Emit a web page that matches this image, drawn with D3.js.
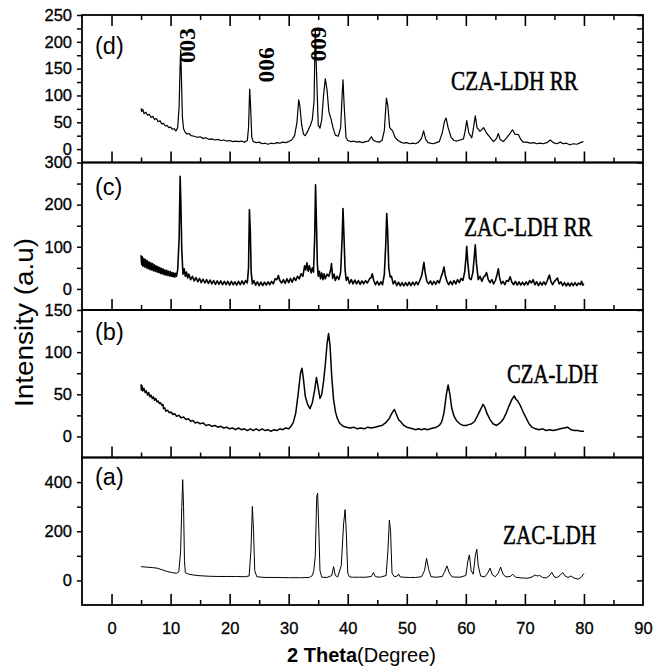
<!DOCTYPE html>
<html>
<head>
<meta charset="utf-8">
<script src="https://cdn.jsdelivr.net/npm/d3@7"></script>
<style>
  html, body { margin: 0; padding: 0; background: #fff; }
  svg { display: block; }
  .tick text { font-family: "Liberation Sans", Arial, sans-serif; font-size: 16.5px; fill: #000; stroke: #000; stroke-width: 0.3px; }
</style>
</head>
<body>
<script>
// XRD patterns, 2 theta vs intensity, four stacked panels (top to bottom: d, c, b, a)

var czaRR = [[5.0,76],[5.1,70],[5.3,74],[5.5,66],[5.8,69],[6.1,63],[6.4,65],[6.7,59],[7.0,61],[7.3,55],[7.6,57],[7.9,51],[8.2,53],[8.5,47],[8.8,48],[9.1,43],[9.4,44],[9.7,40],[10.0,41],[10.3,37],[10.6,38],[10.9,34],[11.2,40],[11.45,80],[11.6,150],[11.72,185],[11.85,128],[12.0,60],[12.2,38],[12.5,31],[12.8,28],[13.1,29],[13.5,25],[14,24],[14.5,22],[15,23],[15.5,20],[16,21],[16.5,18],[17,19],[17.5,17],[18,18],[18.5,16],[19,17],[19.5,15],[20,16],[20.5,14],[21,15],[21.5,14],[22,15],[22.5,13],[23.0,16],[23.2,40],[23.4,112],[23.55,80],[23.75,22],[24.0,14],[24.5,12],[25,13],[25.5,10],[26,11],[26.5,9],[27,11],[27.5,10],[28,12],[28.5,11],[29,13],[29.5,12],[30,14],[30.5,17],[31.0,25],[31.4,50],[31.7,92],[31.9,80],[32.2,45],[32.5,28],[32.8,25],[33.2,33],[33.7,45],[34.0,55],[34.3,90],[34.5,225],[34.7,150],[35.0,45],[35.3,39],[35.6,55],[35.9,100],[36.2,131],[36.5,110],[36.8,70],[37.2,55],[37.5,40],[37.9,26],[38.4,24],[38.8,40],[39.05,100],[39.2,129],[39.4,80],[39.7,22],[40.0,16],[40.5,14],[41,15],[41.5,13],[42,14],[42.5,12],[43,14],[43.5,15],[44.0,23],[44.3,17],[44.8,14],[45.3,13],[45.8,16],[46.2,35],[46.55,95],[46.8,80],[47.1,40],[47.6,34],[48,22],[48.5,16],[49,13],[49.5,11],[50,12],[50.5,10],[51,11],[51.5,10],[52,13],[52.5,20],[52.85,34],[53.2,18],[53.6,12],[54,11],[54.5,10],[55,12],[55.5,14],[56,30],[56.4,52],[56.65,58],[57.0,40],[57.5,22],[58,16],[58.5,15],[59,17],[59.6,19],[59.9,35],[60.15,53],[60.5,30],[61.0,21],[61.3,40],[61.6,62],[61.9,40],[62.4,33],[63.0,40],[63.5,30],[64.1,22],[64.7,14],[65.2,20],[65.5,29],[65.8,18],[66.35,14],[66.9,21],[67.4,28],[67.9,36],[68.3,28],[68.9,27],[69.3,18],[69.7,13],[70.3,13],[70.9,11],[71.5,12],[72,10],[72.5,11],[73.1,10],[73.7,12],[74.3,17],[74.8,12],[75.4,10],[76,13],[76.5,10],[77,11],[77.6,8],[78.2,10],[78.8,9],[79.4,12],[79.9,14]];

var zacRR = [[5.0,80],[5.1,58],[5.2,76],[5.3,54],[5.45,72],[5.6,52],[5.75,70],[5.9,50],[6.05,67],[6.2,48],[6.35,64],[6.5,46],[6.65,62],[6.8,45],[6.95,60],[7.1,43],[7.25,57],[7.4,42],[7.55,55],[7.7,40],[7.85,53],[8.0,39],[8.15,51],[8.3,37],[8.45,49],[8.6,36],[8.75,47],[8.9,34],[9.05,45],[9.2,33],[9.35,44],[9.5,32],[9.65,42],[9.8,31],[9.95,41],[10.1,30],[10.25,39],[10.4,29],[10.55,38],[10.7,28],[10.85,37],[11.0,30],[11.2,45],[11.45,120],[11.62,267],[11.75,200],[11.9,90],[12.1,35],[12.3,48],[12.5,30],[12.7,40],[12.9,26],[13.1,35],[13.4,22],[13.7,30],[14.0,19],[14.3,27],[14.6,17],[14.9,25],[15.2,15],[15.5,23],[15.8,14],[16.1,22],[16.4,13],[16.7,21],[17.0,12],[17.3,20],[17.6,11],[17.9,19],[18.2,11],[18.5,19],[18.8,10],[19.1,18],[19.4,10],[19.7,18],[20.0,9],[20.3,18],[20.6,10],[20.9,17],[21.2,9],[21.5,18],[21.8,10],[22.1,19],[22.4,11],[22.7,20],[23.0,14],[23.2,50],[23.35,188],[23.5,140],[23.65,40],[23.85,12],[24.1,20],[24.4,9],[24.7,17],[25.0,8],[25.3,16],[25.6,8],[25.9,16],[26.2,9],[26.5,17],[26.8,10],[27.1,18],[27.4,12],[27.7,24],[28.0,22],[28.25,32],[28.5,20],[28.8,14],[29.1,22],[29.4,13],[29.7,24],[30.0,15],[30.3,25],[30.6,16],[30.9,27],[31.2,20],[31.5,30],[31.8,24],[32.1,36],[32.4,30],[32.7,55],[32.9,45],[33.1,62],[33.3,42],[33.5,55],[33.8,38],[34.0,50],[34.2,40],[34.4,120],[34.55,247],[34.7,160],[34.85,60],[35.0,30],[35.2,42],[35.4,24],[35.6,38],[35.8,22],[36.0,36],[36.2,24],[36.5,35],[36.8,30],[37.1,45],[37.25,60],[37.45,25],[37.7,35],[37.9,20],[38.2,30],[38.5,22],[38.8,40],[39.05,120],[39.2,191],[39.35,130],[39.55,45],[39.75,20],[40.0,28],[40.3,13],[40.6,22],[40.9,12],[41.2,21],[41.5,12],[41.8,20],[42.1,11],[42.4,19],[42.7,12],[43.0,20],[43.3,14],[43.7,24],[44.0,28],[44.15,36],[44.4,20],[44.7,10],[45.0,18],[45.3,9],[45.6,17],[45.9,10],[46.2,35],[46.45,110],[46.6,179],[46.75,140],[46.95,50],[47.2,28],[47.4,30],[47.7,12],[48.0,19],[48.3,8],[48.6,16],[48.9,7],[49.2,15],[49.5,7],[49.8,15],[50.1,8],[50.4,16],[50.7,8],[51.0,16],[51.3,9],[51.6,17],[51.9,10],[52.2,20],[52.5,30],[52.75,50],[52.9,63],[53.1,40],[53.4,18],[53.7,12],[54.0,19],[54.3,10],[54.6,18],[54.9,11],[55.2,20],[55.5,14],[55.8,28],[56.1,40],[56.3,52],[56.55,30],[56.8,18],[57.1,10],[57.4,18],[57.7,10],[58.0,20],[58.3,12],[58.6,22],[58.9,15],[59.2,25],[59.5,20],[59.8,40],[60.0,70],[60.15,101],[60.35,60],[60.6,25],[60.9,22],[61.2,40],[61.45,80],[61.6,105],[61.8,60],[62.1,22],[62.4,30],[62.7,18],[63.0,28],[63.3,32],[63.5,39],[63.8,22],[64.1,15],[64.4,22],[64.7,12],[65.0,20],[65.3,35],[65.5,48],[65.7,28],[66.0,12],[66.3,18],[66.6,10],[66.9,20],[67.2,18],[67.5,29],[67.8,16],[68.1,10],[68.4,18],[68.7,9],[69.0,17],[69.3,9],[69.6,16],[69.9,9],[70.2,17],[70.5,10],[70.8,20],[71.1,14],[71.4,22],[71.7,10],[72.0,17],[72.3,8],[72.6,16],[72.9,9],[73.2,17],[73.5,10],[73.8,20],[74.0,28],[74.15,33],[74.4,18],[74.7,10],[75.0,18],[75.3,22],[75.5,26],[75.8,12],[76.1,17],[76.4,8],[76.7,15],[77.0,7],[77.3,14],[77.6,7],[77.9,14],[78.2,8],[78.5,15],[78.8,8],[79.1,14],[79.4,10],[79.6,18],[79.8,9],[80.0,12]];

var cza = [[5.0,62],[5.05,55],[5.15,60],[5.3,54],[5.5,57],[5.7,52],[5.9,54],[6.1,49],[6.3,52],[6.5,47],[6.7,49],[6.9,45],[7.1,47],[7.3,43],[7.5,45],[7.7,41],[7.9,42],[8.1,39],[8.3,40],[8.5,37],[8.7,38],[8.8,33],[9.0,34],[9.2,30],[9.5,31],[9.8,28],[10.1,29],[10.4,26],[10.7,27],[11.0,24],[11.4,25],[11.8,22],[12.2,23],[12.6,20],[13.0,21],[13.4,18],[13.8,19],[14.2,16],[14.6,17],[15.0,15],[15.5,16],[16.0,13],[16.5,14],[17.0,12],[17.5,13],[18.0,11],[18.5,12],[19.0,10],[19.5,11],[20.0,9],[20.5,10],[21.0,8],[21.5,10],[22.0,8],[22.5,9],[23.0,7],[23.5,9],[24.0,7],[24.5,9],[25.0,7],[25.5,9],[26.0,7],[26.5,8],[27.0,6],[27.5,8],[28.0,7],[28.5,9],[29.0,8],[29.5,10],[30.0,9],[30.4,12],[30.8,17],[31.2,28],[31.6,50],[32.0,75],[32.25,81],[32.5,68],[32.8,48],[33.2,38],[33.6,33],[34.0,40],[34.4,55],[34.7,70],[34.95,60],[35.3,45],[35.6,50],[35.9,65],[36.2,85],[36.5,110],[36.75,122],[37.0,108],[37.3,70],[37.6,44],[37.9,30],[38.2,22],[38.6,16],[39.2,12],[39.8,11],[40.4,10],[41.0,11],[41.6,9],[42.2,10],[42.8,9],[43.4,11],[44.0,10],[44.6,11],[45.2,12],[45.8,13],[46.4,16],[47.0,21],[47.5,28],[47.9,32],[48.2,27],[48.6,20],[49.0,17],[49.5,13],[50.0,11],[50.5,10],[51.0,9],[51.5,8],[52.0,9],[52.5,8],[53.0,9],[53.5,8],[54.0,9],[54.5,10],[55.0,11],[55.5,13],[55.9,17],[56.3,28],[56.7,50],[57.0,61],[57.3,50],[57.6,34],[58.0,24],[58.5,18],[59.0,15],[59.5,13],[60.0,13],[60.5,14],[61.0,15],[61.5,18],[62.0,25],[62.5,32],[62.9,38],[63.2,35],[63.6,27],[64.1,20],[64.6,15],[65.2,13],[65.8,16],[66.3,20],[66.8,27],[67.3,36],[67.8,44],[68.2,48],[68.5,44],[68.8,42],[69.2,37],[69.7,29],[70.2,22],[70.7,15],[71.2,11],[71.8,9],[72.4,8],[73.0,9],[73.6,7],[74.2,8],[74.8,7],[75.4,8],[76.0,9],[76.6,10],[77.2,11],[77.8,8],[78.4,7],[79.0,7],[79.5,6],[80.0,6]];

var zac = [[5.0,56],[6.0,54],[7.0,52],[7.7,50],[8.5,44],[9.3,37],[10.2,32],[11.0,29],[11.4,35],[11.7,120],[11.9,300],[12.05,410],[12.2,300],[12.35,80],[12.5,32],[13.0,26],[13.8,22],[15,19],[16.5,17],[18,16],[19.5,16],[21,16],[22.5,15],[23.3,18],[23.6,120],[23.85,301],[24.05,200],[24.25,40],[24.6,15],[26,12],[28,12],[30,11],[32,11],[33.5,12],[34.0,20],[34.25,40],[34.5,100],[34.75,340],[34.9,355],[35.05,250],[35.3,40],[35.6,13],[36.5,12],[37.3,20],[37.6,56],[37.9,20],[38.3,14],[38.9,60],[39.3,230],[39.55,288],[39.75,200],[40.0,30],[40.3,14],[41,13],[42,13],[43,13],[44.0,16],[44.35,32],[44.7,15],[45.5,13],[46.5,20],[46.8,120],[47.05,245],[47.25,200],[47.5,30],[47.9,15],[48.4,18],[48.6,26],[48.9,14],[49.5,13],[50.5,12],[51.5,12],[52.5,15],[53.0,40],[53.35,90],[53.7,45],[54.1,15],[55,13],[56.0,16],[56.4,35],[56.8,59],[57.2,30],[57.7,14],[59.0,13],[60.0,20],[60.35,80],[60.6,104],[60.9,40],[61.25,25],[61.6,100],[61.85,127],[62.1,60],[62.5,18],[63.2,14],[63.7,30],[64.1,50],[64.5,22],[65.0,15],[65.5,30],[65.9,54],[66.3,25],[66.8,14],[67.5,16],[67.95,25],[68.4,13],[69.5,10],[70.5,9],[71.2,14],[71.7,22],[72.1,18],[72.5,20],[73.0,12],[73.6,10],[74.1,18],[74.55,33],[75.0,14],[75.5,12],[76.0,22],[76.4,32],[76.8,18],[77.3,12],[77.8,18],[78.3,10],[79.0,5],[79.5,12],[80.0,28]];

// panel order top -> bottom
var series = [czaRR, zacRR, cza, zac];
var sampleNames = ["CZA-LDH RR", "ZAC-LDH RR", "CZA-LDH", "ZAC-LDH"];
var panelLetters = ["(d)", "(c)", "(b)", "(a)"];
var yDomains = [[-25, 250], [-50, 300], [-25, 150], [-100, 500]];
var yLabelTicks = [[0, 50, 100, 150, 200, 250], [0, 100, 200, 300], [0, 50, 100, 150], [0, 200, 400]];
var yMinorTicks = [[25, 75, 125, 175, 225], [50, 150, 250], [25, 75, 125], [100, 300]];
var xMajorTicks = [0, 10, 20, 30, 40, 50, 60, 70, 80];
var xMinorTicks = [5, 15, 25, 35, 45, 55, 65, 75, 85];
var xLabelTicks = [0, 10, 20, 30, 40, 50, 60, 70, 80, 90];
var peakNames = ["003", "006", "009"];
var peakAt = [[12.8, 193], [26.2, 157], [35.0, 196]]; // label anchor (2theta, intensity) in panel d

var W = 661, H = 668;
var plotL = 82, plotR = 643, plotT = 15, plotB = 605;
var panelH = (plotB - plotT) / 4;

// little per-panel look settings
var lineWidths = [1.2, 1.6, 1.5, 1.0];
var nameBox = [[451, 74.5, 127], [464, 73.5, 128], [507, 72.7, 91], [503, 86.5, 93]]; // x, baseline below panel top, width
var letterBase = [39, 32.5, 30, 27.5];

var svg = d3.select("body").append("svg")
    .attr("width", W)
    .attr("height", H);

var x = d3.scaleLinear().domain([-5, 90]).range([plotL, plotR]);

series.forEach(function (data, i) {
    var y0 = plotT + i * panelH, y1 = y0 + panelH;
    var y = d3.scaleLinear().domain(yDomains[i]).range([y1, y0]);
    var allY = yLabelTicks[i].concat(yMinorTicks[i]);

    // left ticks (outward) with labels
    svg.append("g")
        .attr("transform", "translate(" + plotL + ",0)")
        .call(d3.axisLeft(y).tickValues(allY).tickSize(5).tickPadding(5)
            .tickFormat(function (d) { return yLabelTicks[i].indexOf(d) >= 0 ? d : ""; }))
        .call(function (g) { g.select(".domain").remove(); })
        .selectAll("line").attr("stroke-width", 1.5);

    // right ticks (inward)
    svg.append("g")
        .attr("transform", "translate(" + plotR + ",0)")
        .call(d3.axisRight(y).tickValues(allY).tickSize(-6).tickFormat(""))
        .call(function (g) { g.select(".domain").remove(); })
        .selectAll("line").attr("stroke-width", 1.5);

    // bottom edge ticks pointing up
    var bMajor = svg.append("g")
        .attr("transform", "translate(0," + y1 + ")")
        .call(d3.axisBottom(x).tickValues(i == 3 ? xLabelTicks : xMajorTicks).tickSize(-11).tickPadding(17.3)
            .tickFormat(i == 3 ? d3.format("d") : ""))
        .call(function (g) { g.select(".domain").remove(); });
    bMajor.selectAll("line").attr("stroke-width", 1.6)
        .filter(function (d) { return d > 85; }).remove();
    svg.append("g")
        .attr("transform", "translate(0," + y1 + ")")
        .call(d3.axisBottom(x).tickValues(xMinorTicks).tickSize(-5).tickFormat(""))
        .call(function (g) { g.select(".domain").remove(); })
        .selectAll("line").attr("stroke-width", 1.5);

    // the line itself
    svg.append("path")
        .datum(data)
        .attr("fill", "none")
        .attr("stroke", "#000")
        .attr("stroke-width", lineWidths[i])
        .attr("stroke-linejoin", "round")
        .attr("d", d3.line().x(function (d) { return x(d[0]); }).y(function (d) { return y(d[1]); }));

    // panel frame
    svg.append("rect")
        .attr("x", plotL).attr("y", y0)
        .attr("width", plotR - plotL).attr("height", panelH)
        .attr("fill", "none").attr("stroke", "#000").attr("stroke-width", 1.8);

    svg.append("text")
        .attr("x", 95).attr("y", y0 + letterBase[i])
        .style("font-family", "'Liberation Sans', Arial, sans-serif")
        .style("font-size", "23.5px")
        .text(panelLetters[i]);

    svg.append("text")
        .attr("x", nameBox[i][0]).attr("y", y0 + nameBox[i][1])
        .attr("textLength", nameBox[i][2])
        .attr("lengthAdjust", "spacingAndGlyphs")
        .style("font-family", "'Liberation Serif', 'Times New Roman', serif")
        .style("font-size", "26.5px")
        .style("stroke", "#000")
        .style("stroke-width", "0.5px")
        .text(sampleNames[i]);

    if (i == 0) {
        // top edge ticks pointing down
        svg.append("g")
            .attr("transform", "translate(0," + y0 + ")")
            .call(d3.axisTop(x).tickValues(xMajorTicks).tickSize(-11).tickFormat(""))
            .call(function (g) { g.select(".domain").remove(); })
            .selectAll("line").attr("stroke-width", 1.6);
        svg.append("g")
            .attr("transform", "translate(0," + y0 + ")")
            .call(d3.axisTop(x).tickValues(xMinorTicks).tickSize(-5).tickFormat(""))
            .call(function (g) { g.select(".domain").remove(); })
            .selectAll("line").attr("stroke-width", 1.5);

        peakNames.forEach(function (p, k) {
            var px = x(peakAt[k][0]), py = y(peakAt[k][1]);
            svg.append("text")
                .attr("transform", "translate(" + px + "," + py + ") rotate(-90)")
                .attr("text-anchor", "middle")
                .attr("dominant-baseline", "central")
                .attr("textLength", 35)
                .attr("lengthAdjust", "spacingAndGlyphs")
                .style("font-family", "'Liberation Serif', 'Times New Roman', serif")
                .style("font-size", "23px")
                .style("font-weight", "bold")
                .text(p);
        });
    }
});

// axis titles
svg.append("text")
    .attr("transform", "translate(33,322.5) rotate(-90)")
    .attr("text-anchor", "middle")
    .attr("textLength", 169)
    .attr("lengthAdjust", "spacingAndGlyphs")
    .style("font-family", "'Liberation Sans', Arial, sans-serif")
    .style("font-size", "25px")
    .text("Intensity (a.u)");

var xt = svg.append("text")
    .attr("x", 361.5).attr("y", 661.5)
    .attr("text-anchor", "middle")
    .style("font-family", "'Liberation Sans', Arial, sans-serif")
    .style("font-size", "20px");
xt.append("tspan").style("font-weight", "bold").text("2 Theta");
xt.append("tspan").text("(Degree)");
</script>
</body>
</html>
